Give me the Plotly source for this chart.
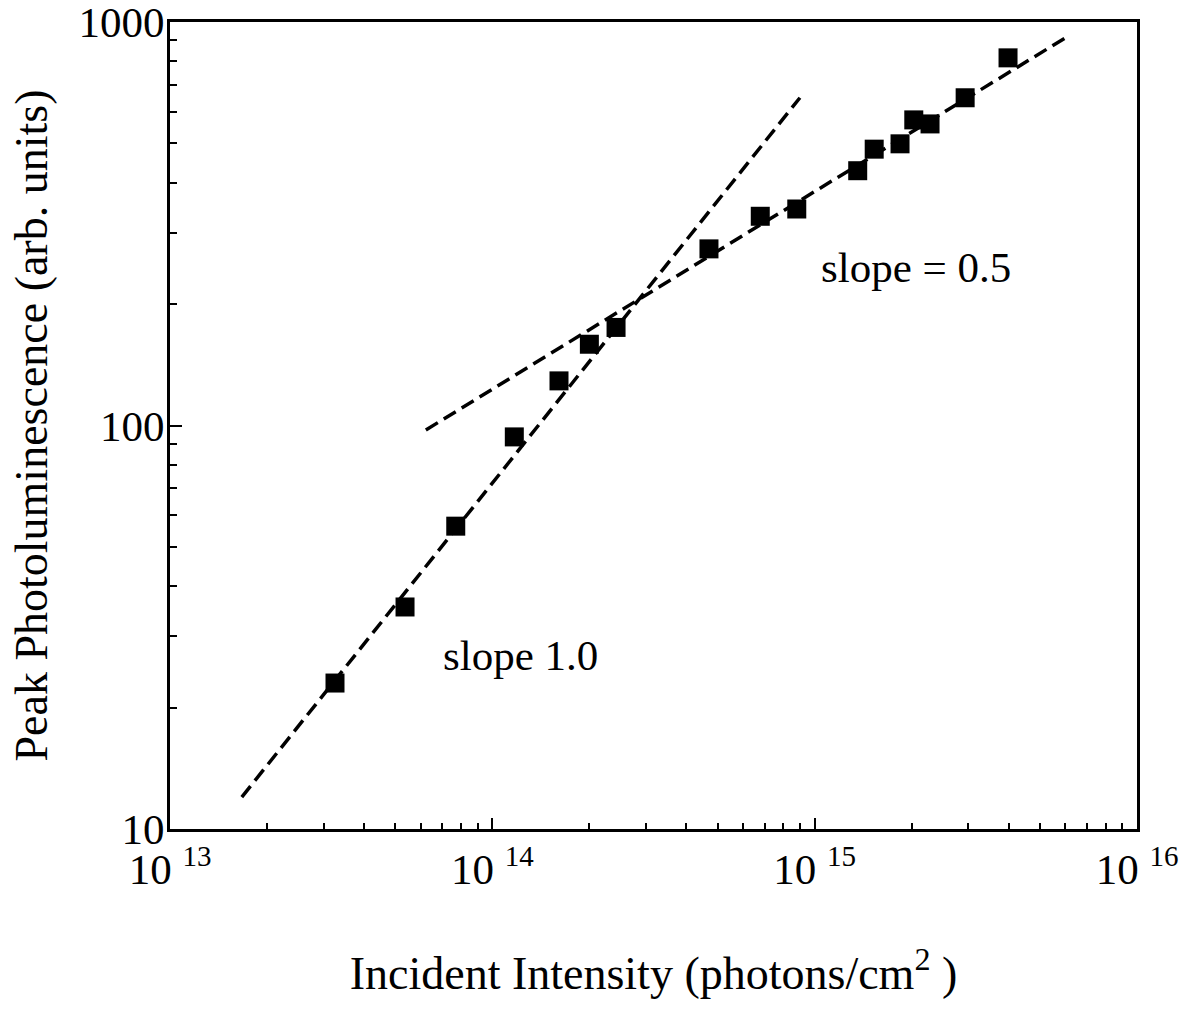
import plotly.graph_objects as go

# Data
intensity = [3.25e13, 5.36e13, 7.7e13, 1.17e14, 1.61e14, 2.0e14, 2.42e14, 4.7e14,
             6.78e14, 8.8e14, 1.36e15, 1.53e15, 1.84e15, 2.03e15, 2.28e15, 2.93e15, 3.98e15]
pl_peak = [23.0, 35.5, 56.3, 93.7, 129, 159, 175, 274,
           330, 344, 428, 484, 499, 572, 559, 649, 815]

fit1_x = [1.67e13, 9.0e14]   # slope 1.0
fit1_y = [12.0, 649]
fit2_x = [6.22e13, 6.2e15]   # slope 0.5
fit2_y = [97.5, 929]

x_tickvals = [1e13, 1e14, 1e15, 1e16]
x_ticktext = ['10 <sup><span style="font-size:29px">13</span></sup>',
              '10 <sup><span style="font-size:29px">14</span></sup>',
              '10 <sup><span style="font-size:29px">15</span></sup>',
              '10 <sup><span style="font-size:29px">16</span></sup>']
y_tickvals = [10, 100, 1000]
y_ticktext = ["10", "100", "1000"]

FONT = "Liberation Serif"

fig = go.Figure()
fig.add_trace(go.Scatter(x=fit1_x, y=fit1_y, mode="lines",
                         line=dict(color="black", width=3.5, dash="14px,7px"),
                         showlegend=False, hoverinfo="skip"))
fig.add_trace(go.Scatter(x=fit2_x, y=fit2_y, mode="lines",
                         line=dict(color="black", width=3.5, dash="14px,7px"),
                         showlegend=False, hoverinfo="skip"))
fig.add_trace(go.Scatter(x=intensity, y=pl_peak, mode="markers",
                         marker=dict(symbol="square", size=19, color="black"),
                         showlegend=False))

minor_x = [k * 10 ** d for d in range(13, 16) for k in range(2, 10)]
minor_y = [k * 10 ** d for d in range(1, 3) for k in range(2, 10)]

fig.update_xaxes(type="log", range=[13, 16],
                 tickvals=x_tickvals, ticktext=x_ticktext,
                 ticks="inside", ticklen=11, tickwidth=2, tickcolor="black",
                 minor=dict(tickvals=minor_x, ticks="inside", ticklen=6, tickwidth=2,
                            tickcolor="black", showgrid=False),
                 showline=True, linecolor="black", linewidth=3, mirror=True,
                 showgrid=False, zeroline=False,
                 tickfont=dict(family=FONT, size=43, color="black"),
                 ticklabelstandoff=0, ticklabeloverflow="allow",
                 title=dict(text="Incident Intensity (photons/cm<sup>2</sup> )",
                            font=dict(family=FONT, size=46, color="black"),
                            standoff=66))
fig.update_yaxes(type="log", range=[1, 3],
                 tickvals=y_tickvals, ticktext=y_ticktext,
                 ticks="inside", ticklen=12, tickwidth=2, tickcolor="black",
                 minor=dict(tickvals=minor_y, ticks="inside", ticklen=7, tickwidth=2,
                            tickcolor="black", showgrid=False),
                 showline=True, linecolor="black", linewidth=3, mirror=True,
                 showgrid=False, zeroline=False,
                 tickfont=dict(family=FONT, size=43, color="black"),
                 ticklabelstandoff=-6, ticklabeloverflow="allow",
                 title=dict(text="Peak Photoluminescence (arb. units)",
                            font=dict(family=FONT, size=46, color="black"),
                            standoff=17))

fig.add_annotation(text="slope 1.0", xref="paper", yref="paper", x=0.362, y=0.2156,
                   xanchor="center", yanchor="middle",
                   showarrow=False, font=dict(family=FONT, size=43, color="black"))
fig.add_annotation(text="slope = 0.5", xref="paper", yref="paper", x=0.771, y=0.696,
                   xanchor="center", yanchor="middle",
                   showarrow=False, font=dict(family=FONT, size=43, color="black"))

fig.update_layout(width=1190, height=1009,
                  margin=dict(l=170, r=53, t=22, b=180, autoexpand=False),
                  plot_bgcolor="white", paper_bgcolor="white")

fig.write_html("out.html")
